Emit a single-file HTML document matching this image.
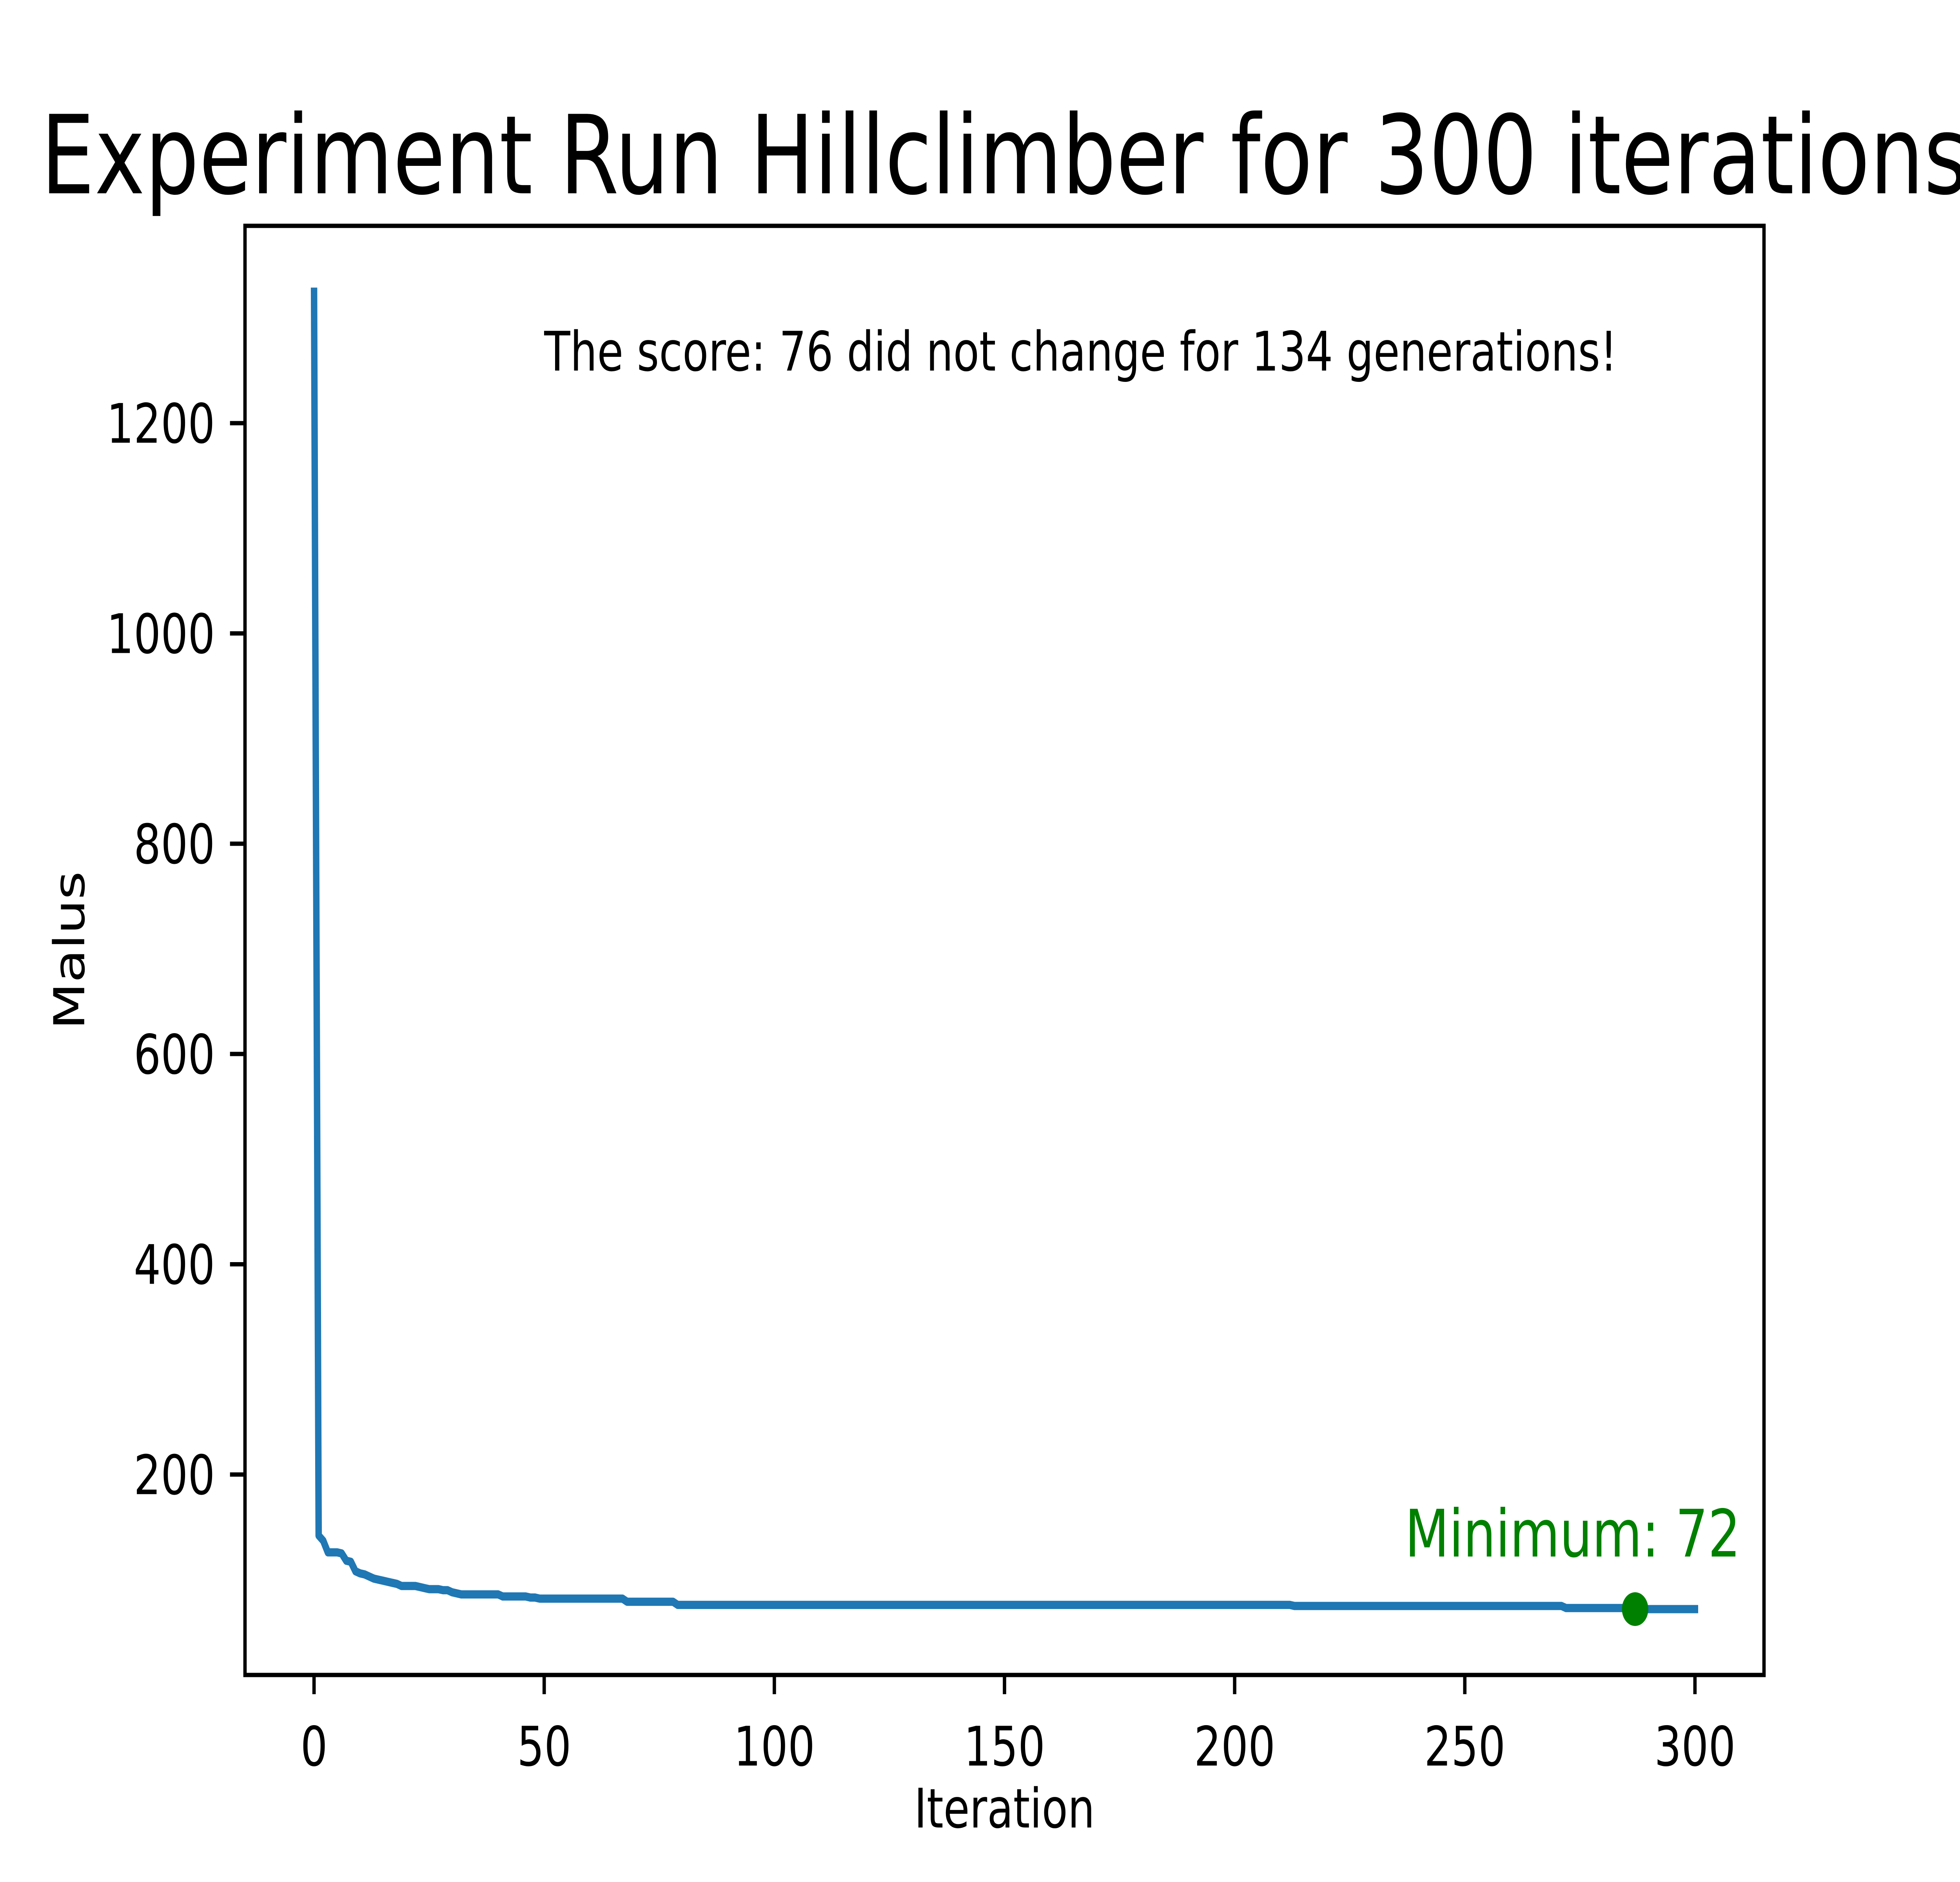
<!DOCTYPE html>
<html><head><meta charset="utf-8"><style>
html,body{margin:0;padding:0;background:#fff;width:100%;height:100%;overflow:hidden;}
svg{display:block;width:100vw;height:100vh;}
text{font-family:"DejaVu Sans","Liberation Sans",sans-serif;}
</style></head><body>
<svg id="chart" viewBox="0 0 6400 4800" preserveAspectRatio="none" xmlns="http://www.w3.org/2000/svg">
<rect x="0" y="0" width="6400" height="4800" fill="#fff"/>
<text x="3280" y="493" font-size="278" text-anchor="middle">Experiment Run Hillclimber for 300 iterations</text>
<g id="plot"></g>
<rect x="800" y="576" width="4960" height="3696" fill="none" stroke="#000" stroke-width="11"/>
<text x="3280" y="4661" font-size="139" text-anchor="middle">Iteration</text>
<text x="0" y="0" font-size="139" text-anchor="middle" transform="translate(275,2424) rotate(-90)">Malus</text>
</svg>
<script>
const xTicks = [0, 50, 100, 150, 200, 250, 300];
const yTicks = [200, 400, 600, 800, 1000, 1200];
const malus = [
1325,142,137,126,126,126,125,118,117,108,
106,105,103,101,100,99,98,97,96,94,
94,94,94,93,92,91,91,91,90,90,
88,87,86,86,86,86,86,86,86,86,
86,84,84,84,84,84,84,83,83,82,
82,82,82,82,82,82,82,82,82,82,
82,82,82,82,82,82,82,82,79,79,
79,79,79,79,79,79,79,79,79,76,
76,76,76,76,76,76,76,76,76,76,
76,76,76,76,76,76,76,76,76,76,
76,76,76,76,76,76,76,76,76,76,
76,76,76,76,76,76,76,76,76,76,
76,76,76,76,76,76,76,76,76,76,
76,76,76,76,76,76,76,76,76,76,
76,76,76,76,76,76,76,76,76,76,
76,76,76,76,76,76,76,76,76,76,
76,76,76,76,76,76,76,76,76,76,
76,76,76,76,76,76,76,76,76,76,
76,76,76,76,76,76,76,76,76,76,
76,76,76,76,76,76,76,76,76,76,
76,76,76,76,76,76,76,76,76,76,
76,76,76,75,75,75,75,75,75,75,
75,75,75,75,75,75,75,75,75,75,
75,75,75,75,75,75,75,75,75,75,
75,75,75,75,75,75,75,75,75,75,
75,75,75,75,75,75,75,75,75,75,
75,75,75,75,75,75,75,75,75,75,
75,75,73,73,73,73,73,73,73,73,
73,73,73,73,73,73,73,72,72,72,
72,72,72,72,72,72,72,72,72,72,
72];
const minPoint = [287, 72];
const minLabel = ["Minimum: 72"];
const note = ["The score: 76 did not change for 134 generations!"];
const notePos = [50, 1250];
const minLabelPos = [237, 122];

const NS = "http://www.w3.org/2000/svg";
const L = 800, R = 5760, T = 576, B = 4272;
const xMin = -15, xMax = 315;
const dMin = Math.min(...malus), dMax = Math.max(...malus);
const yMin = dMin - (dMax - dMin) * 0.05, yMax = dMax + (dMax - dMin) * 0.05;
function xs(v){ return L + (v - xMin) / (xMax - xMin) * (R - L); }
function ys(v){ return B - (v - yMin) / (yMax - yMin) * (B - T); }
const g = document.getElementById('plot');
function mk(tag, attrs){ const e = document.createElementNS(NS, tag); for (const k in attrs) e.setAttribute(k, attrs[k]); g.appendChild(e); return e; }

xTicks.forEach(v => {
  const x = xs(v);
  const t = mk('line', {x1:x, y1:B, x2:x, y2:B+49, stroke:'#000', 'stroke-width':11});
  
  
  const lb = mk('text', {x:x, y:B+49+49+133, 'font-size':139, 'text-anchor':'middle'});
  lb.textContent = v;
  
  
});
yTicks.forEach(v => {
  const y = ys(v);
  const t = mk('line', {x1:L-49, y1:y, x2:L, y2:y, stroke:'#000', 'stroke-width':11});
  
  
  const lb = mk('text', {x:L-49-49, y:y+50, 'font-size':139, 'text-anchor':'end'});
  lb.textContent = v;
  
  
});

const pts = malus.map((v, i) => xs(i).toFixed(1) + ',' + ys(v).toFixed(1)).join(' ');
const line = mk('polyline', {points:pts, fill:'none', stroke:'#1f77b4', 'stroke-width':21, 'stroke-linejoin':'round', 'stroke-linecap':'square'});



const dot = mk('circle', {cx:xs(minPoint[0]), cy:ys(minPoint[1]), r:43, fill:'green'});



const ml = mk('text', {x:xs(minLabelPos[0]), y:ys(minLabelPos[1]), 'font-size':167, fill:'green'});
ml.textContent = minLabel[0];



const nt = mk('text', {x:xs(notePos[0]), y:ys(notePos[1]), 'font-size':139});
nt.textContent = note[0];


</script>
</body></html>
